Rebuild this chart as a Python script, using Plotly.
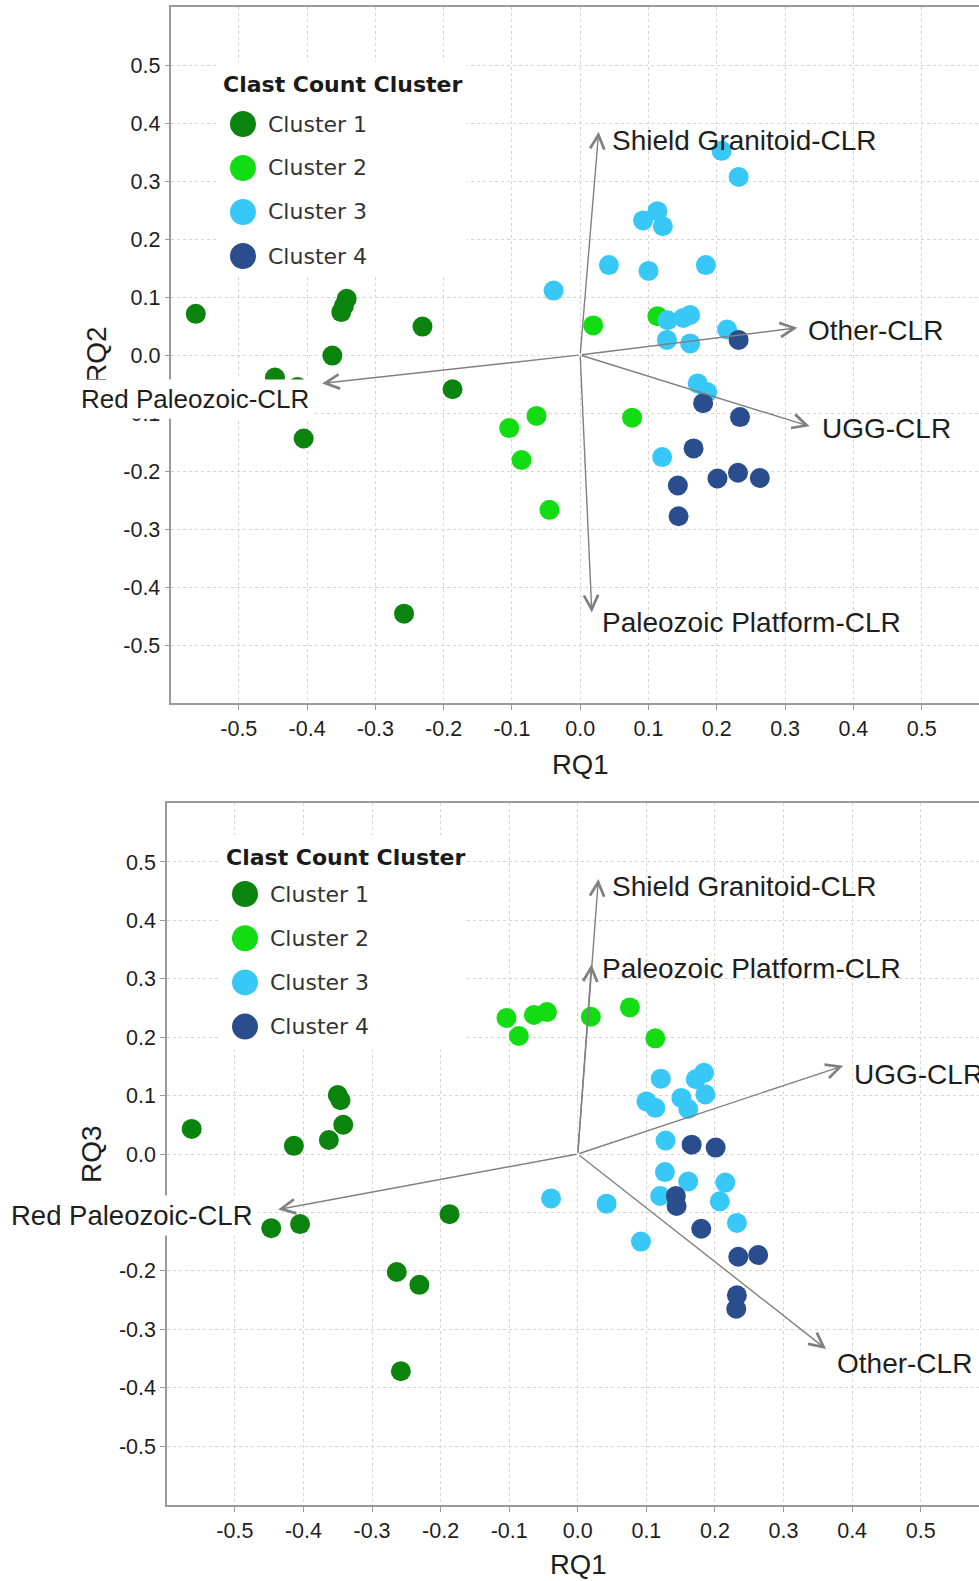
import plotly.graph_objects as go

# ---- scores: RQ1 / RQ2 / RQ3 for each clast-count cluster ----
cluster_names = ["Cluster 1", "Cluster 2", "Cluster 3", "Cluster 4"]
cluster_colors = ["#0a840c", "#12dc12", "#38c8f8", "#2a4d8e"]

c1_rq1 = [-0.563, -0.342, -0.346, -0.350, -0.231, -0.363, -0.447, -0.414, -0.187, -0.405, -0.258, -0.264]
c1_rq2 = [0.071, 0.097, 0.085, 0.074, 0.049, -0.001, -0.039, -0.055, -0.059, -0.144, -0.446, 0.180]
c1_rq3 = [0.043, 0.050, 0.092, 0.101, -0.224, 0.024, -0.127, 0.014, -0.103, -0.120, -0.372, -0.202]

c2_rq1 = [-0.104, -0.086, -0.064, -0.045, 0.019, 0.076, 0.113]
c2_rq2 = [-0.126, -0.181, -0.105, -0.267, 0.051, -0.108, 0.067]
c2_rq3 = [0.233, 0.202, 0.238, 0.243, 0.235, 0.251, 0.198]

c3_rq1 = [-0.039, 0.042, 0.092, 0.100, 0.113, 0.121, 0.120, 0.128, 0.127,
          0.151, 0.161, 0.161, 0.172, 0.184, 0.186, 0.207, 0.215, 0.232]
c3_rq2 = [0.111, 0.155, 0.232, 0.145, 0.248, 0.222, -0.176, 0.060, 0.026,
          0.064, 0.069, 0.020, -0.049, 0.155, -0.064, 0.352, 0.044, 0.307]
c3_rq3 = [-0.076, -0.085, -0.150, 0.090, 0.079, 0.129, -0.072, 0.023, -0.031,
          0.096, 0.077, -0.047, 0.128, 0.139, 0.102, -0.081, -0.049, -0.118]

c4_rq1 = [0.143, 0.144, 0.166, 0.180, 0.201, 0.232, 0.234, 0.231, 0.263]
c4_rq2 = [-0.225, -0.278, -0.161, -0.083, -0.213, 0.026, -0.107, -0.203, -0.212]
c4_rq3 = [-0.072, -0.089, 0.016, -0.128, 0.011, -0.242, -0.176, -0.265, -0.173]

# ---- variable loadings (arrow tips) ----
load_names_12 = ["Shield Granitoid-CLR", "Other-CLR", "UGG-CLR", "Paleozoic Platform-CLR", "Red Paleozoic-CLR"]
load_rq1_12 = [0.027, 0.318, 0.336, 0.017, -0.378]
load_rq2_12 = [0.385, 0.047, -0.123, -0.444, -0.049]

load_names_13 = ["Shield Granitoid-CLR", "Paleozoic Platform-CLR", "UGG-CLR", "Other-CLR", "Red Paleozoic-CLR"]
load_rq1_13 = [0.030, 0.020, 0.387, 0.362, -0.437]
load_rq3_13 = [0.471, 0.325, 0.151, -0.334, -0.095]

tick_vals = [-0.5, -0.4, -0.3, -0.2, -0.1, 0.0, 0.1, 0.2, 0.3, 0.4, 0.5]
tick_text = ["-0.5", "-0.4", "-0.3", "-0.2", "-0.1", "0.0", "0.1", "0.2", "0.3", "0.4", "0.5"]

# ---- page geometry (pixels) ----
W, H = 979, 1581
L, R, T, B = 167, 979, 7, 1505


def pxx(p):
    return (p - L) / (R - L)


def pxy(p):
    return (B - p) / (B - T)


TXT = "#1e1e1e"
AX_FONT = "Liberation Sans, Arial, sans-serif"
LEG_FONT = "DejaVu Sans, Verdana, sans-serif"
ARROW_C = "#808080"

fig = go.Figure()

scores = [
    (c1_rq1, c1_rq2, c1_rq3),
    (c2_rq1, c2_rq2, c2_rq3),
    (c3_rq1, c3_rq2, c3_rq3),
    (c4_rq1, c4_rq2, c4_rq3),
]
for name, col, (r1, r2, r3) in zip(cluster_names, cluster_colors, scores):
    fig.add_trace(go.Scatter(x=r1, y=r2, mode="markers", name=name, showlegend=False,
                             marker=dict(size=20, color=col, line=dict(width=0)),
                             xaxis="x", yaxis="y"))
    fig.add_trace(go.Scatter(x=r1, y=r3, mode="markers", name=name, showlegend=False,
                             marker=dict(size=20, color=col, line=dict(width=0)),
                             xaxis="x2", yaxis="y2"))

axis_common = dict(
    tickmode="array", tickvals=tick_vals, ticktext=tick_text,
    tickfont=dict(family=AX_FONT, size=21.5, color=TXT),
    showgrid=True, gridcolor="#d4d4d4", griddash="dot", gridwidth=1,
    zeroline=False, showline=True, linecolor="#9a9a9a", linewidth=1.5,
    ticks="outside", ticklen=5, tickcolor="#9a9a9a",
)

fig.update_layout(
    width=W, height=H,
    margin=dict(l=L, r=W - R, t=T, b=H - B, pad=0),
    paper_bgcolor="white", plot_bgcolor="white",
    showlegend=False,
    xaxis=dict(domain=[pxx(171.4), 1], range=[-0.5987, 0.584], anchor="y", mirror=True, **axis_common),
    yaxis=dict(domain=[pxy(703), 1], range=[-0.6, 0.6], anchor="x", mirror=False, **axis_common),
    xaxis2=dict(domain=[0, 1], range=[-0.599, 0.585], anchor="y2", mirror=True, **axis_common),
    yaxis2=dict(domain=[0, pxy(803)], range=[-0.601, 0.601], anchor="x2", mirror=False, **axis_common),
)

annotations = []
shapes = []

# axis titles
annotations += [
    dict(text="RQ1", x=pxx(580), y=pxy(764), xref="paper", yref="paper", showarrow=False,
         xanchor="center", yanchor="middle", font=dict(family=AX_FONT, size=27.5, color=TXT)),
    dict(text="RQ1", x=pxx(578), y=pxy(1564), xref="paper", yref="paper", showarrow=False,
         xanchor="center", yanchor="middle", font=dict(family=AX_FONT, size=27.5, color=TXT)),
    dict(text="RQ2", x=pxx(96), y=pxy(355), xref="paper", yref="paper", showarrow=False,
         textangle=-90, xanchor="center", yanchor="middle", font=dict(family=AX_FONT, size=28, color=TXT)),
    dict(text="RQ3", x=pxx(91), y=pxy(1154), xref="paper", yref="paper", showarrow=False,
         textangle=-90, xanchor="center", yanchor="middle", font=dict(family=AX_FONT, size=28, color=TXT)),
]


def biplot_arrows(xr, yr, names, lx, ly, shifts, sizes):
    out = []
    for x, y in zip(lx, ly):
        out.append(dict(x=x, y=y, ax=0, ay=0, xref=xr, yref=yr, axref=xr, ayref=yr,
                        text="", showarrow=True, arrowhead=5, arrowsize=2.0, arrowwidth=1.4,
                        arrowcolor=ARROW_C, standoff=0))
    for nm, x, y, (dx, dy), fs in zip(names, lx, ly, shifts, sizes):
        left = dx >= 0
        lab = dict(x=x, y=y, xref=xr, yref=yr, text=nm, showarrow=False,
                   xanchor="left" if left else "right", yanchor="middle",
                   xshift=dx, yshift=dy,
                   font=dict(family=AX_FONT, size=fs, color=TXT))
        if nm.startswith("Red"):
            lab.update(bgcolor="white", borderpad=4)
        out.append(lab)
    return out


annotations += biplot_arrows("x", "y", load_names_12, load_rq1_12, load_rq2_12,
                             [(11, -9), (9, -3), (10, -2), (8, -10), (-8, -16)],
                             [28, 28, 28, 28, 26])
annotations += biplot_arrows("x2", "y2", load_names_13, load_rq1_13, load_rq3_13,
                             [(12, -8), (8, -4), (9, -9), (9, -14), (-20, -6)],
                             [28, 28, 28, 28, 27.5])

# cluster key boxes
for (bx0, by0, bx1, by1, tx, ty, mx, my0, gap) in [
    (218, 62, 467, 277, 221, 85, 243, 124, 44),
    (220, 835, 464, 1050, 224, 858, 245, 894, 44.2),
]:
    shapes.append(dict(type="rect", xref="paper", yref="paper", layer="above",
                       x0=pxx(bx0), x1=pxx(bx1), y0=pxy(by0), y1=pxy(by1),
                       fillcolor="white", line=dict(width=0)))
    annotations.append(dict(text="<b>Clast Count Cluster</b>", x=pxx(tx), y=pxy(ty),
                            xref="paper", yref="paper", showarrow=False,
                            xanchor="left", yanchor="middle",
                            font=dict(family=LEG_FONT, size=22, color="#1a1a1a")))
    for i, (nm, col) in enumerate(zip(cluster_names, cluster_colors)):
        cy = my0 + i * gap
        shapes.append(dict(type="circle", xref="paper", yref="paper", layer="above",
                           xsizemode="pixel", ysizemode="pixel",
                           xanchor=pxx(mx), yanchor=pxy(cy),
                           x0=-13, x1=13, y0=-13, y1=13,
                           fillcolor=col, line=dict(width=0)))
        annotations.append(dict(text=nm, x=pxx(mx + 23), y=pxy(cy),
                                xref="paper", yref="paper", showarrow=False,
                                xanchor="left", yanchor="middle",
                                font=dict(family=LEG_FONT, size=22, color="#333333")))

fig.update_layout(annotations=annotations, shapes=shapes)

fig.write_html("out.html")
